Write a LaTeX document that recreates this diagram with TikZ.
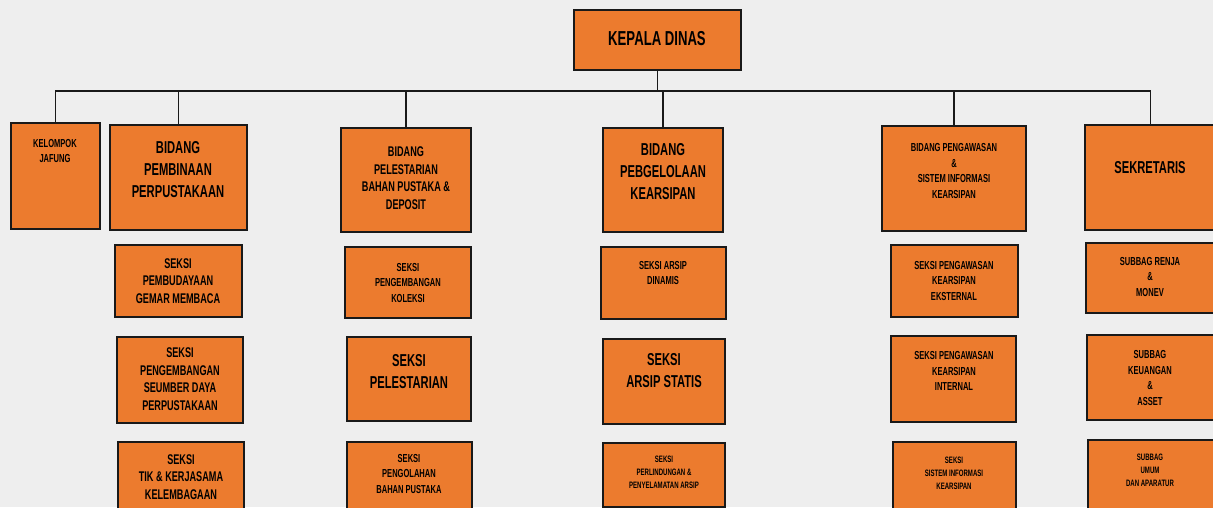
\documentclass[tikz,border=0pt]{standalone}
\usepackage{fontspec}
\setmainfont{Liberation Sans}[FakeStretch=0.65]
\usepackage{tikz}
\usetikzlibrary{fit}

\definecolor{unitfill}{RGB}{236,123,46}
\definecolor{paper}{RGB}{238,238,238}

\tikzset{
  unit/.style={draw=black!90, line width=1.1pt, fill=unitfill, inner sep=0pt},
  link/.style={draw=black!90, line width=1.1pt},
  fA/.style={align=center, inner sep=0pt, font=\bfseries\fontsize{11.5}{14}\selectfont},
  fB/.style={align=center, inner sep=0pt, font=\bfseries\fontsize{9.8}{12.5}\selectfont},
  fC/.style={align=center, inner sep=0pt, font=\bfseries\fontsize{8}{10}\selectfont},
  fD/.style={align=center, inner sep=0pt, font=\bfseries\fontsize{6.6}{9}\selectfont},
  fE/.style={align=center, inner sep=0pt, font=\bfseries\fontsize{5.3}{7.4}\selectfont},
}

\begin{document}
\begin{tikzpicture}[x=0.02cm, y=-0.02cm]
    \clip (0,0) rectangle (1213,507);
    \fill[paper] (0,0) rectangle (1213,507);

    % Kepala dinas
    \node[unit, fit={(574,10) (741,70)}] (kepala) {};
    \node[fA] (kepala-t) at (657,39) {KEPALA DINAS};

    % Bidang
    \node[unit, fit={(11,123) (100,229)}] (jafung) {};
    \node[fD] (jafung-t) at (55,151) {KELOMPOK\\JAFUNG};
    \node[unit, fit={(110,125) (247,230)}] (pembinaan) {};
    \node[fB] (pembinaan-t) at (178,170) {BIDANG\\PEMBINAAN\\PERPUSTAKAAN};
    \node[unit, fit={(341,128) (471,232)}] (pelestarian) {};
    \node[fC] (pelestarian-t) at (406,178) {BIDANG\\PELESTARIAN\\BAHAN PUSTAKA \&\\DEPOSIT};
    \node[unit, fit={(603,128) (723,232)}] (pengelolaan) {};
    \node[fB] (pengelolaan-t) at (663,172) {BIDANG\\PEBGELOLAAN\\KEARSIPAN};
    \node[unit, fit={(882,126) (1026,231)}] (pengawasan) {};
    \node[fD] (pengawasan-t) at (954,171) {BIDANG PENGAWASAN\\\&\\SISTEM INFORMASI\\KEARSIPAN};
    \node[unit, fit={(1085,125) (1216,230)}] (sekretaris) {};
    \node[fB] (sekretaris-t) at (1150,168) {SEKRETARIS};

    % Seksi / subbag, baris 1
    \node[unit, fit={(115,245) (242,317)}] (pembudayaan) {};
    \node[fC] (pembudayaan-t) at (178,281) {SEKSI\\PEMBUDAYAAN\\GEMAR MEMBACA};
    \node[unit, fit={(345,247) (471,318)}] (koleksi) {};
    \node[fD] (koleksi-t) at (408,283) {SEKSI\\PENGEMBANGAN\\KOLEKSI};
    \node[unit, fit={(601,247) (726,319)}] (dinamis) {};
    \node[fD] (dinamis-t) at (663,273) {SEKSI ARSIP\\DINAMIS};
    \node[unit, fit={(891,245) (1018,317)}] (eksternal) {};
    \node[fD] (eksternal-t) at (954,281) {SEKSI PENGAWASAN\\KEARSIPAN\\EKSTERNAL};
    \node[unit, fit={(1086,243) (1216,313)}] (renja) {};
    \node[fD] (renja-t) at (1150,277) {SUBBAG RENJA\\\&\\MONEV};

    % baris 2
    \node[unit, fit={(117,337) (243,423)}] (sdm) {};
    \node[fC] (sdm-t) at (180,379) {SEKSI\\PENGEMBANGAN\\SEUMBER DAYA\\PERPUSTAKAAN};
    \node[unit, fit={(347,337) (471,421)}] (lestari) {};
    \node[fB] (lestari-t) at (409,372) {SEKSI\\PELESTARIAN};
    \node[unit, fit={(603,339) (725,424)}] (statis) {};
    \node[fB] (statis-t) at (664,371) {SEKSI\\ARSIP STATIS};
    \node[unit, fit={(891,336) (1016,422)}] (internal) {};
    \node[fD] (internal-t) at (954,371) {SEKSI PENGAWASAN\\KEARSIPAN\\INTERNAL};
    \node[unit, fit={(1087,335) (1216,420)}] (keuangan) {};
    \node[fD] (keuangan-t) at (1150,378) {SUBBAG\\KEUANGAN\\\&\\ASSET};

    % baris 3
    \node[unit, fit={(118,442) (244,512)}] (tik) {};
    \node[fC] (tik-t) at (181,477) {SEKSI\\TIK \& KERJASAMA\\KELEMBAGAAN};
    \node[unit, fit={(347,442) (472,512)}] (pengolahan) {};
    \node[fD] (pengolahan-t) at (409,474) {SEKSI\\PENGOLAHAN\\BAHAN PUSTAKA};
    \node[unit, fit={(603,443) (725,507)}] (perlindungan) {};
    \node[fE] (perlindungan-t) at (664,472) {SEKSI\\PERLINDUNGAN \&\\PENYELAMATAN ARSIP};
    \node[unit, fit={(893,442) (1016,510)}] (sisinfo) {};
    \node[fE] (sisinfo-t) at (954,473) {SEKSI\\SISTEM INFORMASI\\KEARSIPAN};
    \node[unit, fit={(1088,440) (1216,510)}] (umum) {};
    \node[fE] (umum-t) at (1150,470) {SUBBAG\\UMUM\\DAN APARATUR};

    % Garis
    \coordinate (bus) at (0,91);
    \draw[link] (kepala.south) -- (kepala.south |- bus);
    \draw[link] (jafung.north) -- (jafung.north |- bus) -- (sekretaris.north |- bus) -- (sekretaris.north);
    \foreach \u in {pembinaan, pelestarian, pengelolaan, pengawasan} {
        \draw[link] (\u.north) -- (\u.north |- bus);
    }
\end{tikzpicture}
\end{document}
